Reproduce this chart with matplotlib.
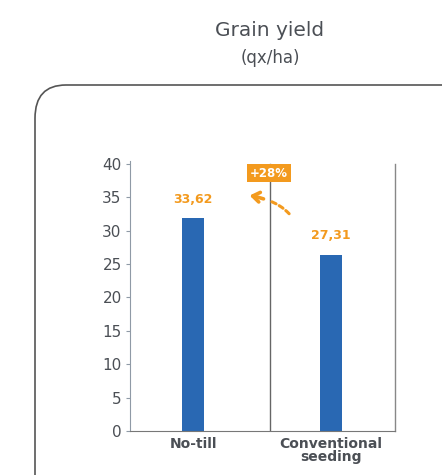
import matplotlib
matplotlib.use("Agg")
import matplotlib.pyplot as plt
from matplotlib.patches import FancyBboxPatch

categories = ["No-till", "Conventional\nseeding"]
heights = [31.9, 26.4]
value_labels = ["33,62", "27,31"]
diff_label = "+28%"
yticks = [0, 5, 10, 15, 20, 25, 30, 35, 40]

orange = "#f39a1e"
blue = "#2968b3"
grey = "#4b4f55"
spine = "#8f9aa6"

fig = plt.figure(figsize=(4.42, 4.75), dpi=100)
fig.patch.set_facecolor("white")

# rounded frame
box = FancyBboxPatch((35 / 442, -0.2), 1.0, 1 - 85 / 475 + 0.2,
                     boxstyle="round,pad=0,rounding_size=0.07",
                     transform=fig.transFigure, fill=False,
                     edgecolor="#555555", linewidth=1.2)
fig.patches.append(box)

fig.text(270 / 442, 1 - 31 / 475, "Grain yield", ha="center", va="center",
         fontsize=14.5, color=grey)
fig.text(270 / 442, 1 - 58 / 475, "(qx/ha)", ha="center", va="center",
         fontsize=12, color=grey)

ax = fig.add_axes([130 / 442, 1 - 431 / 475, 265 / 442, 270 / 475])
x = range(len(categories))
ax.bar(x, heights, width=0.16, color=blue)
ax.set_xlim(-0.457, 1.464)
ax.set_ylim(0, 40.4)
ax.set_yticks(yticks)
ax.set_yticklabels([str(t) for t in yticks], fontsize=11, color=grey)
ax.set_xticks(list(x))
ax.set_xticklabels(categories, fontsize=10, color=grey, fontweight="bold",
                   linespacing=0.95)
ax.tick_params(axis="x", length=0, pad=4)
ax.tick_params(axis="y", length=3, color=spine, pad=3)
for s in ["top", "right"]:
    ax.spines[s].set_visible(False)
ax.spines["left"].set_color(spine)
ax.spines["bottom"].set_color("#777777")
ax.axvline(0.558, color="#666666", linewidth=1.0, ymax=0.99)
ax.axvline(1.464, color="#888888", linewidth=1.0, ymax=0.99, clip_on=False)

offs = [2.8, 2.8]
for i, (h, lab) in enumerate(zip(heights, value_labels)):
    ax.text(i, h + offs[i], lab, ha="center", va="center", color=orange,
            fontsize=9, fontweight="bold")

ax.text(0.55, 38.6, diff_label, ha="center", va="center", color="white",
        fontsize=8.5, fontweight="bold",
        bbox=dict(boxstyle="square,pad=0.25", facecolor=orange, edgecolor="none"),
        clip_on=False)

# dashed tail + chevron head
ax.annotate("", xy=(0.53, 34.6), xytext=(0.71, 32.2),
            arrowprops=dict(arrowstyle="-", color=orange, lw=2.2,
                            linestyle=(0, (1.5, 1.2)),
                            connectionstyle="arc3,rad=0.15"))
ax.annotate("", xy=(0.39, 35.3), xytext=(0.53, 34.6),
            arrowprops=dict(arrowstyle="->,head_length=0.5,head_width=0.35",
                            color=orange, lw=2.6,
                            connectionstyle="arc3,rad=0.05"))

fig.savefig("out.png", dpi=100)
